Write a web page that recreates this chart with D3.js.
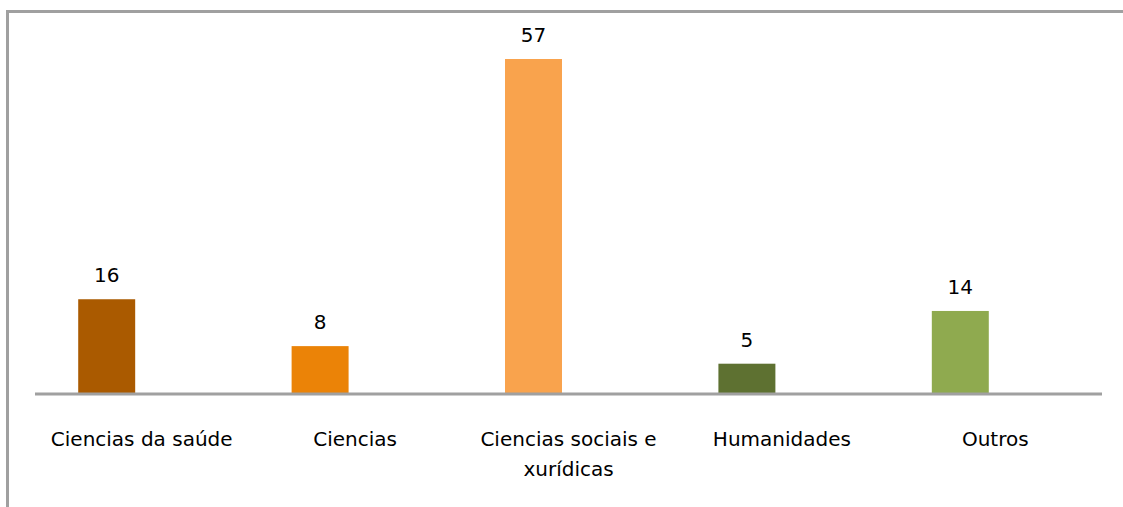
<!DOCTYPE html>
<html><head><meta charset="utf-8">
<script src="https://cdn.jsdelivr.net/npm/d3@7"></script>
<style>html,body{margin:0;padding:0;background:#fff;}svg{display:block;}</style>
</head><body>
<script>
const categories = [["Ciencias da saúde"], ["Ciencias"], ["Ciencias sociais e", "xurídicas"], ["Humanidades"], ["Outros"]];
const values = [16, 8, 57, 5, 14];
const colors = ["#AA5A00", "#EB8307", "#F9A34D", "#5E7131", "#8FAA4F"];

const W = 1123, H = 507;
const svg = d3.select("body").append("svg").attr("width", W).attr("height", H);

svg.append("rect").attr("x", 7.5).attr("y", 11.5).attr("width", W).attr("height", H)
  .attr("fill", "none").attr("stroke", "#A0A0A0").attr("stroke-width", 3);

const keys = categories.map((c, i) => i);
const pad = 0.733;
// label positions
const xl = d3.scaleBand().domain(keys).range([35, 1102]);
// bar positions (drawn offset to the left of the label bands, as in the original)
const xb = d3.scaleBand().domain(keys).range([0, 1067]).paddingInner(pad).paddingOuter(pad / 2);
const y = d3.scaleLinear().domain([0, 57]).range([393, 59]);

svg.selectAll("rect.bar").data(values).enter().append("rect").attr("class", "bar")
  .attr("x", (d, i) => xb(i)).attr("width", xb.bandwidth())
  .attr("y", d => y(d)).attr("height", d => y(0) - y(d))
  .attr("fill", (d, i) => colors[i]);

svg.append("line").attr("x1", 35).attr("x2", 1102).attr("y1", 394).attr("y2", 394)
  .attr("stroke", "#A0A0A0").attr("stroke-width", 3);

const font = "DejaVu Sans, Verdana, sans-serif";
svg.selectAll("text.val").data(values).enter().append("text").attr("class", "val")
  .attr("x", (d, i) => xb(i) + xb.bandwidth() / 2).attr("y", d => y(d) - 17)
  .attr("text-anchor", "middle").attr("font-family", font).attr("font-size", 20)
  .attr("fill", "#000").text(d => d);

categories.forEach((lines, i) => {
  const t = svg.append("text").attr("text-anchor", "middle").attr("font-family", font)
    .attr("font-size", 20).attr("fill", "#000");
  lines.forEach((l, j) => {
    t.append("tspan").attr("x", xl(i) + xl.bandwidth() / 2).attr("y", 446 + j * 30).text(l);
  });
});
</script>
</body></html>
